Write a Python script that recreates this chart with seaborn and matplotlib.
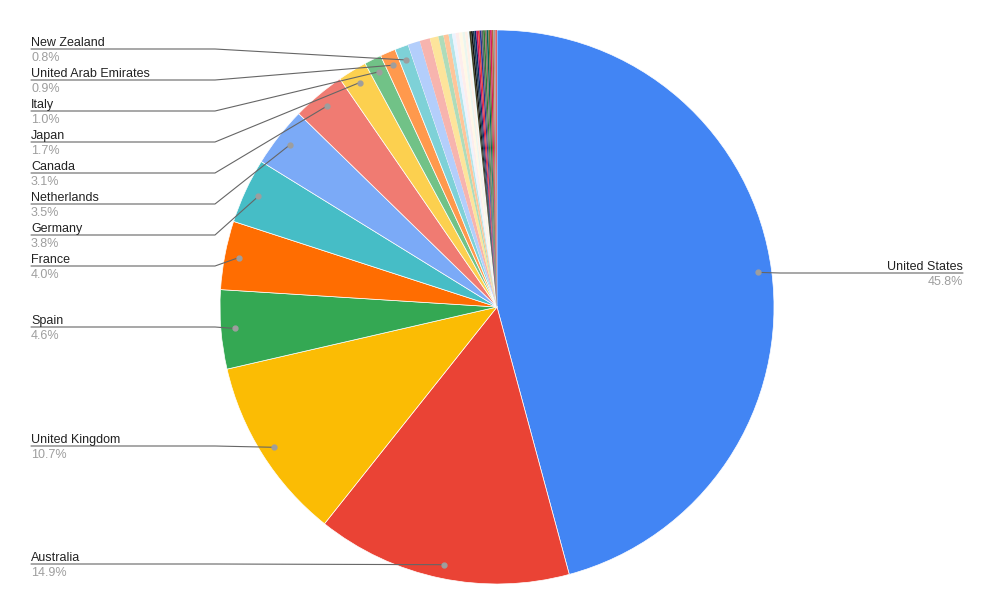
import numpy as np
import matplotlib
matplotlib.use("Agg")
import matplotlib.pyplot as plt
import seaborn as sns
from matplotlib.lines import Line2D

# =============================
# 1) DATA
# =============================

countries = ["United States", "Australia", "United Kingdom", "Spain", "France",
             "Germany", "Netherlands", "Canada", "Japan", "Italy",
             "United Arab Emirates", "New Zealand"]
shares = [45.8, 14.9, 10.7, 4.6, 4.0, 3.8, 3.5, 3.1, 1.7, 1.0, 0.9, 0.8]
pct_labels = ["45.8%", "14.9%", "10.7%", "4.6%", "4.0%", "3.8%", "3.5%",
              "3.1%", "1.7%", "1.0%", "0.9%", "0.8%"]

# many tiny unlabeled slices at the top of the pie
minor_shares = [0.7, 0.6, 0.5, 0.3, 0.3, 0.2, 0.2, 0.2, 0.2, 0.15, 0.15, 0.1,
                0.1, 0.1, 0.1, 0.1, 0.1, 0.1, 0.1, 0.1,
                0.1, 0.1, 0.1, 0.1, 0.1, 0.1, 0.1, 0.1]

main_colors = ["#4285F4", "#EA4335", "#FBBC04", "#34A853", "#FF6D01", "#46BDC6",
               "#7BAAF7", "#F07B72", "#FCD04F", "#71C287", "#FF994D", "#7ED1D7"]
minor_colors = ["#B3CEFB", "#F7B4AE", "#FDE49B", "#AEDCBA", "#FFC599", "#B5E5E8",
                "#ECF3FE", "#FDEDEC", "#FFF8E6", "#EBF6EE", "#FFF0E6", "#EDF9FA",
                "#3c3c1e", "#111111", "#1f3b4d", "#0b2a6f", "#c2185b", "#e53935",
                "#283593", "#5f6368", "#2e7d32", "#8d6e63", "#00695c", "#7a6a2c",
                "#d81b60", "#b06a3b", "#9e9e9e", "#e06666"]

# label line heights (pixels from top) for each labeled slice
label_line_y = [273, 564, 446, 327, 266, 235, 204, 173, 142, 111, 80, 49]

# =============================
# 2) STYLE
# =============================

sns.set_theme(style="white")
plt.rcParams["font.family"] = ["Liberation Sans", "DejaVu Sans"]

W, H = 994, 615
fig = plt.figure(figsize=(W / 100, H / 100), dpi=100)
fig.patch.set_facecolor("white")

cx, cy, r = 497, 307, 277
ax = fig.add_axes([(cx - r) / W, (H - cy - r) / H, 2 * r / W, 2 * r / H])

# =============================
# 3) PIE
# =============================

all_shares = shares + minor_shares
all_colors = main_colors + minor_colors
wedges, _ = ax.pie(all_shares, colors=all_colors, startangle=90, counterclock=False,
                   radius=1, wedgeprops=dict(edgecolor="white", linewidth=0.5))
# tiny slices without white borders so the dark ones stay visible
for w in wedges[len(shares):]:
    w.set_linewidth(0)
ax.set_xlim(-1, 1)
ax.set_ylim(-1, 1)
ax.axis("off")


def px_to_fig(px, py):
    return px / W, 1 - py / H


inv = fig.transFigure.inverted()

for i, name in enumerate(countries):
    w = wedges[i]
    mid = np.deg2rad((w.theta1 + w.theta2) / 2)
    dot = inv.transform(ax.transData.transform((0.95 * np.cos(mid), 0.95 * np.sin(mid))))
    ly = label_line_y[i]
    if i == 0:
        # right-side label
        ex, ey = px_to_fig(780, ly)
        tx, ty = px_to_fig(963, ly)
        xs, ys = [dot[0], ex, tx], [dot[1], ey, ty]
        ha, text_x = "right", tx
    else:
        sx, sy = px_to_fig(31, ly)
        ex, ey = px_to_fig(215, ly)
        xs, ys = [sx, ex, dot[0]], [sy, ey, dot[1]]
        ha, text_x = "left", sx
    fig.add_artist(Line2D(xs, ys, transform=fig.transFigure, color="#666666", lw=0.8))
    fig.add_artist(Line2D([dot[0]], [dot[1]], transform=fig.transFigure, marker="o",
                          markersize=3.5, color="#9e9e9e", lw=0))
    fig.text(text_x, 1 - (ly - 3) / H, name, ha=ha, va="baseline",
             fontsize=9, color="#222222")
    fig.text(text_x, 1 - (ly + 3) / H, pct_labels[i], ha=ha, va="top",
             fontsize=9, color="#9e9e9e")

fig.savefig("out.png", dpi=100, facecolor="white")
